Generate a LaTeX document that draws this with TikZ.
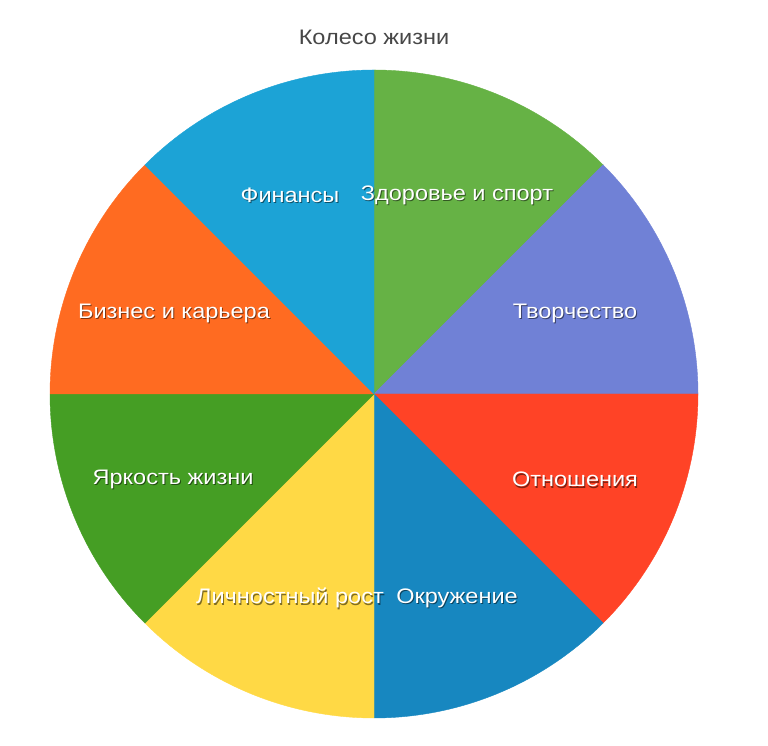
\documentclass[tikz,border=0pt]{standalone}
\usepackage{fontspec}
\setmainfont{Liberation Sans}
\newfontfamily\wheelfont[FakeStretch=1.12]{Liberation Sans}
\usetikzlibrary{calc}

\definecolor{cfin}{HTML}{1CA3D6}
\definecolor{czdr}{HTML}{66B245}
\definecolor{ctvr}{HTML}{7081D6}
\definecolor{cotn}{HTML}{FF4326}
\definecolor{cokr}{HTML}{1787C0}
\definecolor{clich}{HTML}{FFD945}
\definecolor{cyark}{HTML}{459E24}
\definecolor{cbiz}{HTML}{FF6B21}
\definecolor{ctitle}{HTML}{474747}

\tikzset{
  lbl/.style={text=white, font=\wheelfont\fontsize{21}{24}\selectfont, inner sep=0pt},
  lblshadow/.style={text=black, opacity=0.5, font=\wheelfont\fontsize{21}{24}\selectfont, inner sep=0pt},
}
\newcommand{\wheellabel}[3]{%
  \node[lblshadow] at ($(#1)+(1,-1.8)$) {#3};
  \node[lbl] (#2) at (#1) {#3};
}

\begin{document}
\begin{tikzpicture}[x=1pt,y=1pt]

\useasboundingbox (0,0) rectangle (768,746);

\coordinate (c) at (374,352);

\filldraw[color=czdr] (c) -- +(90:324) arc (90:45:324) -- cycle;
\filldraw[color=ctvr] (c) -- +(45:324) arc (45:0:324) -- cycle;
\filldraw[color=cotn] (c) -- +(0:324) arc (0:-45:324) -- cycle;
\filldraw[color=cokr] (c) -- +(-45:324) arc (-45:-90:324) -- cycle;
\filldraw[color=clich] (c) -- +(-90:324) arc (-90:-135:324) -- cycle;
\filldraw[color=cyark] (c) -- +(-135:324) arc (-135:-180:324) -- cycle;
\filldraw[color=cbiz] (c) -- +(180:324) arc (180:135:324) -- cycle;
\filldraw[color=cfin] (c) -- +(135:324) arc (135:90:324) -- cycle;

\node[text=ctitle, font=\wheelfont\fontsize{21}{24}\selectfont] (title) at (374,709) {Колесо жизни};

\wheellabel{290,551}{fin}{Финансы}
\wheellabel{457,551}{zdr}{Здоровье и спорт}
\wheellabel{174,433}{biz}{Бизнес и карьера}
\wheellabel{575,433}{tvr}{Творчество}
\wheellabel{173,267}{yark}{Яркость жизни}
\wheellabel{575,267}{otn}{Отношения}
\wheellabel{290,148}{lich}{Личностный рост}
\wheellabel{457,148}{okr}{Окружение}

\end{tikzpicture}
\end{document}
